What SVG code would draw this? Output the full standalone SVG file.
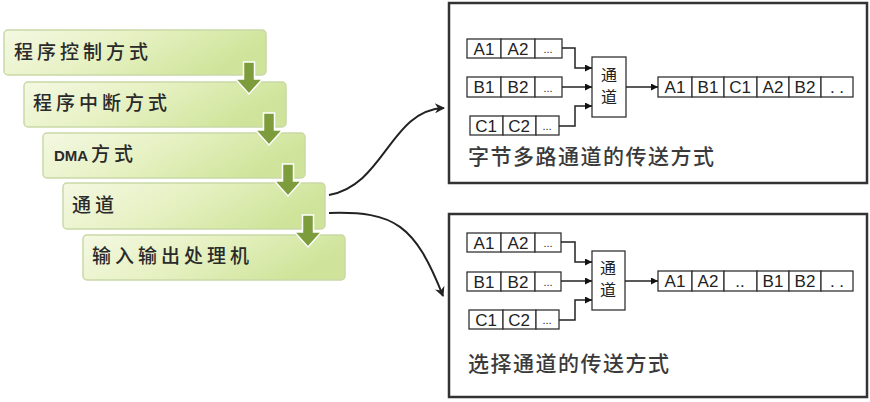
<svg xmlns="http://www.w3.org/2000/svg" width="870" height="402" viewBox="0 0 870 402">
<defs>
<linearGradient id="g" x1="0" y1="0" x2="1" y2="0.3">
<stop offset="0" stop-color="#f4f8e2"/>
<stop offset="0.5" stop-color="#e6f1c2"/>
<stop offset="1" stop-color="#cfe49a"/>
</linearGradient>
<marker id="ah" viewBox="0 0 10 10" refX="10" refY="5" markerWidth="9" markerHeight="7" markerUnits="userSpaceOnUse" orient="auto">
<path d="M0,0 L10,5 L0,10 z" fill="#111"/>
</marker>
<marker id="ah2" viewBox="0 0 10 10" refX="9" refY="5" markerWidth="12" markerHeight="10" markerUnits="userSpaceOnUse" orient="auto">
<path d="M0,0 L10,5 L0,10 L3,5 z" fill="#222"/>
</marker>
</defs>
<style>
.step{fill:url(#g);stroke:#c9d9a6;stroke-width:1.5}
.st{font-family:"Noto Sans CJK SC","Noto Sans",sans-serif;font-size:19px;font-weight:500;fill:#2a2a2a;letter-spacing:4px}
.dma{font-family:"Liberation Sans",Arial,sans-serif;font-size:15px;font-weight:bold;fill:#2a2a2a}
.garrow{fill:#7d9c3c;stroke:#ffffff;stroke-width:1.5}
.frame{fill:#ffffff;stroke:#333;stroke-width:2.5}
.cell{fill:#fff;stroke:#333;stroke-width:1.3}
.ct{font-family:"Liberation Sans",Arial,sans-serif;font-size:17px;fill:#222;text-anchor:middle}
.cd{font-family:"Liberation Sans",Arial,sans-serif;font-size:11px;fill:#222;text-anchor:middle}
.ch{font-family:"Noto Sans CJK SC",sans-serif;font-size:16px;fill:#222;text-anchor:middle}
.lbl{font-family:"Noto Sans CJK SC",sans-serif;font-size:21px;font-weight:500;fill:#3a3a3a;letter-spacing:1.5px}
.wire{fill:none;stroke:#222;stroke-width:1.5}
.curve{fill:none;stroke:#222;stroke-width:2}
</style>
<rect width="870" height="402" fill="#ffffff"/>

<g id="step1"><rect class="step" x="4" y="30" width="262" height="45" rx="4"/><text class="st" x="14" y="59">程序控制方式</text></g>
<g id="step2"><rect class="step" x="24" y="82" width="262" height="45" rx="4"/><text class="st" x="33" y="110">程序中断方式</text></g>
<g id="step3"><rect class="step" x="43" y="133" width="262" height="45" rx="4"/><text class="dma" x="54" y="161">DMA</text><text class="st" x="91" y="161">方式</text></g>
<g id="step4"><rect class="step" x="63" y="183" width="262" height="46" rx="4"/><text class="st" x="72" y="212">通道</text></g>
<g id="step5"><rect class="step" x="83" y="235" width="262" height="45" rx="4"/><text class="st" x="92" y="263">输入输出处理机</text></g>

<g id="down-arrows">
<path class="garrow" d="M243.5,62 h11 v17 h8 l-13.5,15 l-13.5,-15 h8 z"/>
<path class="garrow" d="M263.5,113 h11 v17 h8 l-13.5,15 l-13.5,-15 h8 z"/>
<path class="garrow" d="M282.5,164 h11 v17 h8 l-13.5,15 l-13.5,-15 h8 z"/>
<path class="garrow" d="M302.5,215 h11 v17 h8 l-13.5,15 l-13.5,-15 h8 z"/>
</g>

<g id="byte-mux">
<rect class="frame" x="449" y="3" width="418" height="180"/>
<rect class="cell" x="467" y="39" width="34" height="19"/><rect class="cell" x="501" y="39" width="34" height="19"/><rect class="cell" x="535" y="39" width="27" height="19"/>
<text class="ct" x="484" y="55">A1</text><text class="ct" x="518" y="55">A2</text><text class="cd" x="548" y="53">...</text>
<rect class="cell" x="467" y="77" width="34" height="20"/><rect class="cell" x="501" y="77" width="34" height="20"/><rect class="cell" x="535" y="77" width="27" height="20"/>
<text class="ct" x="484" y="93">B1</text><text class="ct" x="518" y="93">B2</text><text class="cd" x="548" y="92">...</text>
<rect class="cell" x="470" y="116" width="33" height="19"/><rect class="cell" x="503" y="116" width="33" height="19"/><rect class="cell" x="536" y="116" width="23" height="19"/>
<text class="ct" x="486" y="132">C1</text><text class="ct" x="519" y="132">C2</text><text class="cd" x="547" y="130">...</text>
<rect class="cell" x="592" y="57" width="34" height="60"/>
<text class="ch" x="609" y="81">通</text><text class="ch" x="609" y="103">道</text>
<rect class="cell" x="658" y="77" width="34" height="20"/><rect class="cell" x="692" y="77" width="32" height="20"/><rect class="cell" x="724" y="77" width="33" height="20"/><rect class="cell" x="757" y="77" width="32" height="20"/><rect class="cell" x="789" y="77" width="32" height="20"/><rect class="cell" x="821" y="77" width="32" height="20"/>
<text class="ct" x="675" y="93">A1</text><text class="ct" x="708" y="93">B1</text><text class="ct" x="740" y="93">C1</text><text class="ct" x="773" y="93">A2</text><text class="ct" x="805" y="93">B2</text><text class="ct" x="837" y="93">. .</text>
<text class="lbl" x="468" y="164">字节多路通道的传送方式</text>
</g>

<g id="selector">
<rect class="frame" x="449" y="214" width="418" height="183"/>
<rect class="cell" x="467" y="233" width="34" height="19"/><rect class="cell" x="501" y="233" width="34" height="19"/><rect class="cell" x="535" y="233" width="26" height="19"/>
<text class="ct" x="484" y="249">A1</text><text class="ct" x="518" y="249">A2</text><text class="cd" x="548" y="247">...</text>
<rect class="cell" x="467" y="272" width="34" height="19"/><rect class="cell" x="501" y="272" width="34" height="19"/><rect class="cell" x="535" y="272" width="26" height="19"/>
<text class="ct" x="484" y="288">B1</text><text class="ct" x="518" y="288">B2</text><text class="cd" x="548" y="286">...</text>
<rect class="cell" x="469" y="310" width="34" height="19"/><rect class="cell" x="503" y="310" width="33" height="19"/><rect class="cell" x="536" y="310" width="23" height="19"/>
<text class="ct" x="486" y="326">C1</text><text class="ct" x="519" y="326">C2</text><text class="cd" x="547" y="324">...</text>
<rect class="cell" x="592" y="251" width="33" height="59"/>
<text class="ch" x="608" y="274">通</text><text class="ch" x="608" y="296">道</text>
<rect class="cell" x="658" y="271" width="34" height="20"/><rect class="cell" x="692" y="271" width="32" height="20"/><rect class="cell" x="724" y="271" width="33" height="20"/><rect class="cell" x="757" y="271" width="32" height="20"/><rect class="cell" x="789" y="271" width="32" height="20"/><rect class="cell" x="821" y="271" width="32" height="20"/>
<text class="ct" x="675" y="287">A1</text><text class="ct" x="708" y="287">A2</text><text class="ct" x="740" y="287">..</text><text class="ct" x="773" y="287">B1</text><text class="ct" x="805" y="287">B2</text><text class="ct" x="837" y="287">. .</text>
<text class="lbl" x="468" y="371">选择通道的传送方式</text>
</g>

<g id="connectors">
<path class="wire" marker-end="url(#ah)" d="M562,48 H575 V68 H592"/>
<path class="wire" marker-end="url(#ah)" d="M562,87 H592"/>
<path class="wire" marker-end="url(#ah)" d="M559,126 H575 V106 H592"/>
<path class="wire" marker-end="url(#ah)" d="M626,87 H658"/>
<path class="wire" marker-end="url(#ah)" d="M561,242 H575 V262 H592"/>
<path class="wire" marker-end="url(#ah)" d="M561,281 H592"/>
<path class="wire" marker-end="url(#ah)" d="M559,320 H575 V300 H592"/>
<path class="wire" marker-end="url(#ah)" d="M625,281 H658"/>
<path class="curve" marker-end="url(#ah2)" d="M329,195 C385,185 390,110 444,108"/>
<path class="curve" marker-end="url(#ah2)" d="M329,213 C395,211 415,225 443,296"/>
</g>
</svg>
